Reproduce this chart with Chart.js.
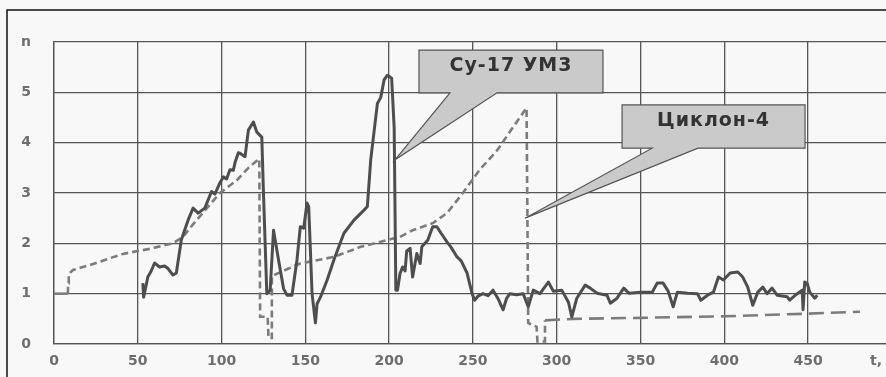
<!DOCTYPE html>
<html lang="ru">
<head>
<meta charset="UTF-8">
<title>n(t)</title>
<style>
  body { margin: 0; background: #f8f8f8; }
  #wrap { width: 886px; height: 377px; }
</style>
</head>
<body>
<div id="wrap"><canvas id="myChart" width="886" height="377"></canvas></div>
<script src="https://cdn.jsdelivr.net/npm/chart.js"></script>
<script>
// Су-17 УМ3 (solid line)
const tSu = [53, 53.5, 56, 58, 60, 63, 66, 68, 71, 73, 76, 80, 83, 86, 90, 94, 96, 99, 101, 103, 105, 107, 108, 110, 111, 114, 116, 119, 121, 124,
  125, 127, 129, 131, 134, 137, 139, 142, 145, 147, 149, 151, 152, 154, 156, 157, 159, 163, 167, 173, 179, 185, 187, 189, 193, 195, 197, 199,
  201.5, 203, 204, 205, 206.5, 208, 209.5, 210.5, 212.5, 214, 216.5, 218.5, 219.5, 223, 226, 228.5, 231, 234.5, 237, 240.5, 243, 246.5,
  249.5, 251, 253, 256, 259, 262, 265, 268, 270, 272, 276, 280, 283, 286, 290, 295, 298, 303, 307, 309, 312, 317, 320, 324, 330, 332, 336,
  340, 343, 350, 357, 360, 363.5, 366.5, 369.5, 372, 378, 384, 386, 390, 393.5, 396.5, 399.5, 403.5, 408, 411, 414, 417, 420, 423, 425.5,
  428.5, 431.5, 437.5, 439, 443.5, 446.5, 447, 448, 449.5, 451, 454, 455.5];
const nSu = [1.21, 0.93, 1.33, 1.45, 1.61, 1.53, 1.55, 1.5, 1.37, 1.41, 2.07, 2.46, 2.7, 2.6, 2.7, 3.03, 2.98, 3.2, 3.32, 3.28, 3.46, 3.45, 3.6, 3.8, 3.79, 3.72, 4.25, 4.41, 4.21, 4.11,
  3.0, 1.0, 1.07, 2.26, 1.67, 1.1, 0.97, 0.97, 1.67, 2.33, 2.3, 2.8, 2.73, 1.0, 0.42, 0.8, 0.93, 1.27, 1.67, 2.2, 2.46, 2.66, 2.73, 3.66, 4.78, 4.9, 5.25, 5.34,
  5.28, 4.3, 1.07, 1.07, 1.4, 1.53, 1.45, 1.85, 1.9, 1.33, 1.8, 1.6, 1.93, 2.06, 2.33, 2.33, 2.2, 2.03, 1.92, 1.73, 1.65, 1.41,
  1.0, 0.87, 0.95, 1.0, 0.96, 1.07, 0.9, 0.68, 0.9, 1.0, 0.98, 1.0, 0.74, 1.07, 1.0, 1.23, 1.05, 1.07, 0.83, 0.54, 0.91, 1.17, 1.11, 1.01, 0.97, 0.81, 0.91,
  1.11, 1.01, 1.03, 1.03, 1.21, 1.21, 1.05, 0.74, 1.03, 1.01, 1.0, 0.87, 0.97, 1.03, 1.33, 1.27, 1.41, 1.43, 1.33, 1.13, 0.77, 1.03, 1.13, 1.0,
  1.11, 0.97, 0.94, 0.87, 1.0, 1.07, 0.68, 1.23, 1.2, 1.03, 0.91, 0.97];

// Циклон-4 (dashed line)
const tCy = [0, 8.3, 8.4, 8.8, 11.3, 21.5, 41, 57, 71, 77, 85, 90, 99, 109, 116, 122.5, 123, 127.5, 128, 129.5, 130, 140, 147, 167, 183, 195,
  206.5, 214, 226, 234.5, 244, 254, 264.5, 274, 282, 283, 288, 288.5, 292.5, 293, 310, 350, 400, 447, 481];
const nCy = [1.0, 1.0, 1.21, 1.39, 1.47, 1.57, 1.79, 1.89, 2.0, 2.13, 2.46, 2.65, 3.0, 3.25, 3.5, 3.68, 0.54, 0.54, 0.12, 0.12, 1.35, 1.5, 1.6, 1.73, 1.93, 2.03,
  2.13, 2.26, 2.4, 2.6, 3.0, 3.46, 3.85, 4.31, 4.69, 0.42, 0.34, 0.05, 0.05, 0.47, 0.5, 0.52, 0.55, 0.6, 0.64];

const xTicks = [0, 50, 100, 150, 200, 250, 300, 350, 400, 450];
const yTicks = [0, 1, 2, 3, 4, 5, 6];
const yTickLabels = ['0', '1', '2', '3', '4', '5', 'n'];

// callouts: text, box corners (t, n), pointer base (t), pointer tip (t, n)
const callouts = [
  { text: 'Су-17 УМ3', t0: 217.8, t1: 327.6, n0: 5.84, n1: 4.99, b0: 236.3, b1: 264.4, tipT: 203.5, tipN: 3.66 },
  { text: 'Циклон-4', t0: 339, t1: 448.2, n0: 4.75, n1: 3.89, b0: 356.9, b1: 384.3, tipT: 281.1, tipN: 2.5 }
];

const tickFont = { family: 'DejaVu Sans', size: 14, weight: 'bold' };

const decor = {
  id: 'decor',
  beforeDraw(chart) {
    const c = chart.ctx;
    c.save();
    c.fillStyle = '#f8f8f8';
    c.fillRect(0, 0, chart.width, chart.height);
    c.strokeStyle = '#111';
    c.lineWidth = 1.5;
    c.beginPath();
    c.moveTo(7, chart.height);
    c.lineTo(7, 10);
    c.lineTo(chart.width, 10);
    c.stroke();
    c.restore();
  },
  afterDatasetsDraw(chart) {
    const c = chart.ctx;
    const xs = chart.scales.x, ys = chart.scales.y;
    c.save();
    callouts.forEach(o => {
      const l = xs.getPixelForValue(o.t0), r = xs.getPixelForValue(o.t1);
      const t = ys.getPixelForValue(o.n0), b = ys.getPixelForValue(o.n1);
      c.beginPath();
      c.moveTo(l, t);
      c.lineTo(r, t);
      c.lineTo(r, b);
      c.lineTo(xs.getPixelForValue(o.b1), b);
      c.lineTo(xs.getPixelForValue(o.tipT), ys.getPixelForValue(o.tipN));
      c.lineTo(xs.getPixelForValue(o.b0), b);
      c.lineTo(l, b);
      c.closePath();
      c.fillStyle = '#cacaca';
      c.fill();
      c.strokeStyle = '#555';
      c.lineWidth = 1.2;
      c.stroke();
      c.fillStyle = '#333';
      c.font = 'bold 19px "DejaVu Sans"';
      c.letterSpacing = '1px';
      c.textAlign = 'center';
      c.textBaseline = 'middle';
      c.fillText(o.text, (l + r) / 2, (t + b) / 2 - 5);
      c.letterSpacing = '0px';
    });
    c.fillStyle = '#6e6e6e';
    c.font = 'bold 14px "DejaVu Sans"';
    c.textAlign = 'center';
    c.textBaseline = 'top';
    c.fillText('t,', 876, xs.top + 10);
    c.restore();
  }
};

const ctx = document.getElementById('myChart');
const chart = new Chart(ctx, {
  type: 'line',
  data: {
    datasets: [
      {
        label: 'Су-17 УМ3',
        data: tSu.map((t, i) => ({ x: t, y: nSu[i] })),
        borderColor: '#4e4e4e',
        borderWidth: 3,
        pointRadius: 0,
        tension: 0,
        borderJoinStyle: 'round',
        order: 0
      },
      {
        label: 'Циклон-4',
        data: tCy.map((t, i) => ({ x: t, y: nCy[i] })),
        borderColor: '#7c7c7c',
        borderWidth: 2.6,
        pointRadius: 0,
        tension: 0,
        order: 1,
        segment: {
          borderDash: s => s.p0.parsed.x < 8.2 ? [] : (s.p0.parsed.x >= 292.8 ? [15, 7] : [7, 4])
        }
      }
    ]
  },
  options: {
    responsive: false,
    animation: false,
    devicePixelRatio: 1,
    layout: { padding: { top: 42, right: 0, left: 0, bottom: 0 } },
    plugins: { legend: { display: false }, tooltip: { enabled: false } },
    scales: {
      x: {
        type: 'linear',
        min: 0,
        max: 496.5,
        afterFit: s => { s.height = 33; },
        afterBuildTicks: s => { s.ticks = xTicks.map(v => ({ value: v })); },
        ticks: { font: tickFont, color: '#6e6e6e', padding: 9, maxRotation: 0, autoSkip: false },
        grid: { color: '#555', lineWidth: 1.3, drawTicks: false },
        border: { color: '#555', width: 1.3 }
      },
      y: {
        min: 0,
        max: 6,
        afterFit: s => { s.width = 54; },
        afterBuildTicks: s => { s.ticks = yTicks.map(v => ({ value: v })); },
        ticks: {
          font: tickFont, color: '#6e6e6e', padding: 23,
          callback: v => yTickLabels[yTicks.indexOf(v)]
        },
        grid: { color: '#555', lineWidth: 1.3, drawTicks: false },
        border: { color: '#555', width: 1.3 }
      }
    }
  },
  plugins: [decor]
});
</script>
</body>
</html>
